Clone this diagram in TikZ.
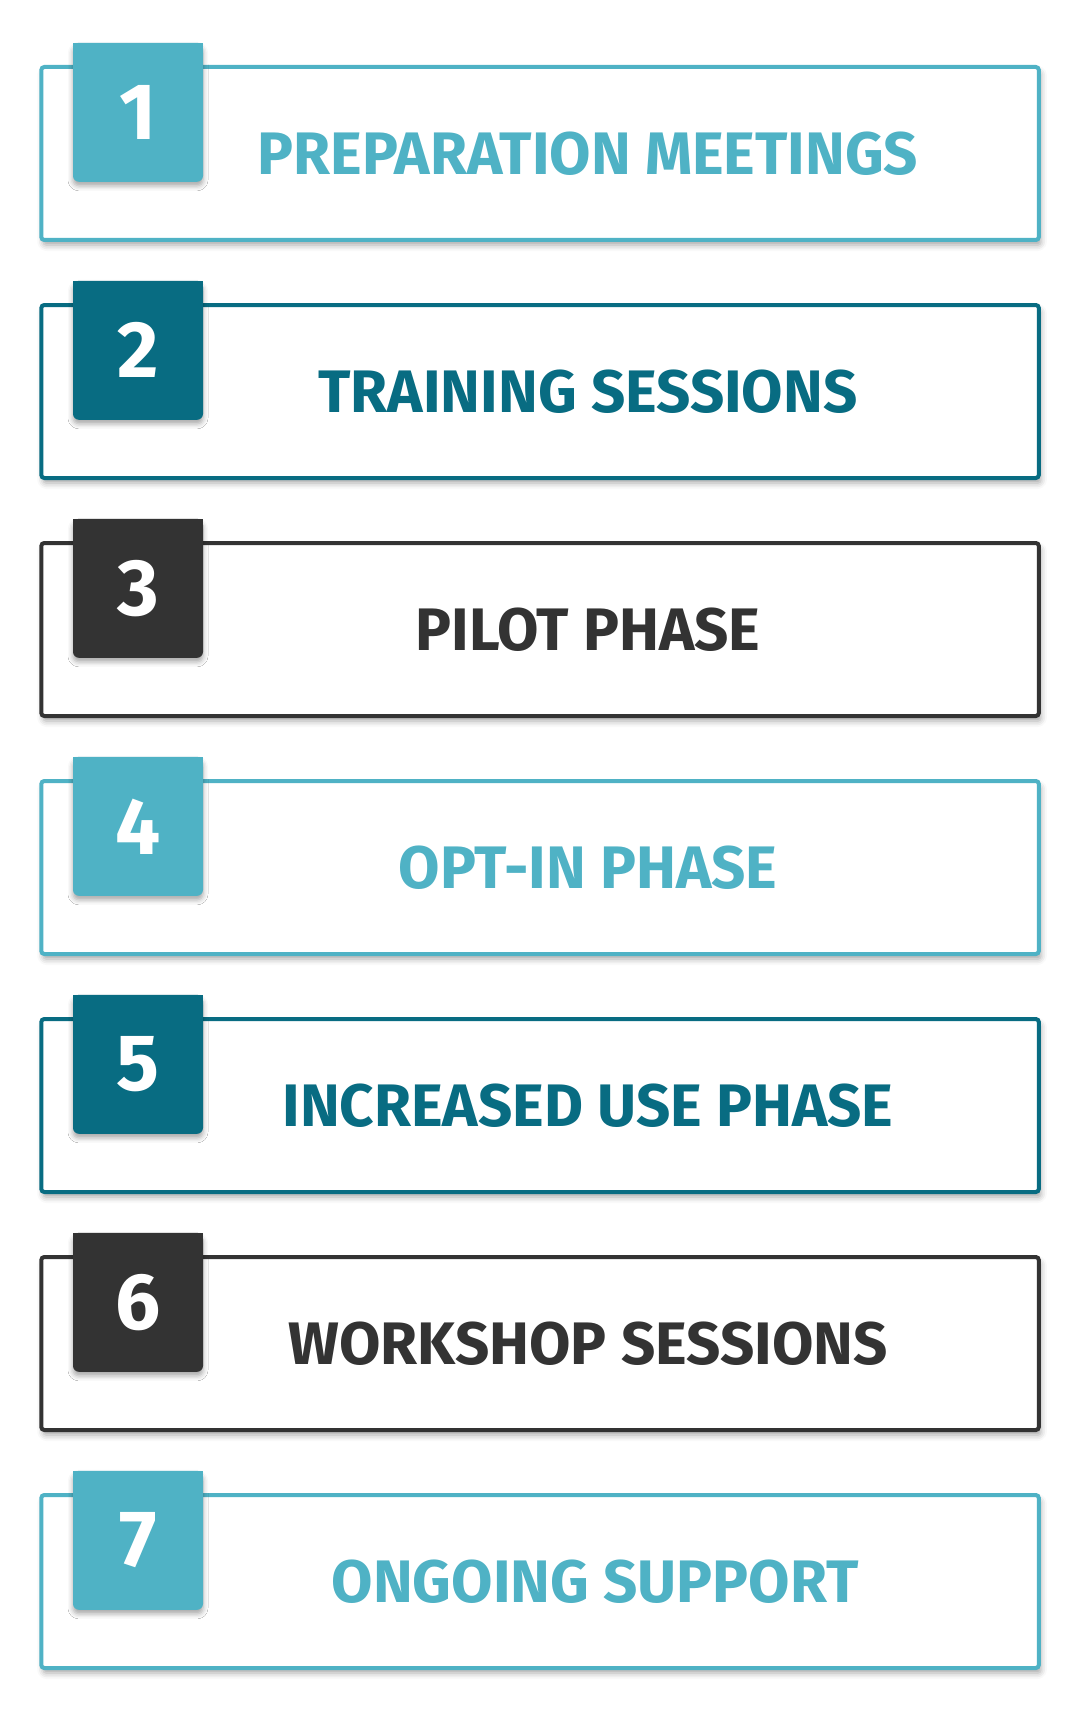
\documentclass[tikz,border=0pt]{standalone}
\usepackage{fontspec}
\setmainfont{Fira Sans}
\newfontfamily\labelfont{Fira Sans Bold}
\newfontfamily\numfont{Fira Sans Bold}
\usetikzlibrary{shadows.blur}
\definecolor{lteal}{RGB}{79,178,197}
\definecolor{dteal}{RGB}{8,108,130}
\definecolor{dgray}{RGB}{51,51,51}
\tikzset{
  stepframe/.style={draw=#1, line width=4pt, fill=white, rounded corners=3pt,
    minimum width=997.5pt, minimum height=173pt, anchor=north west, inner sep=0pt, outer sep=0pt,
    blur shadow={shadow xshift=2pt, shadow yshift=-5pt, shadow blur radius=6pt, shadow opacity=35}},
  badgebox/.style={fill=#1, rounded corners=6pt, minimum width=130pt, minimum height=139pt,
    inner sep=0pt, outer sep=0pt, anchor=center,
    blur shadow={shadow xshift=0pt, shadow yshift=-4pt, shadow blur radius=5pt, shadow opacity=35}},
  numtext/.style={text=white, font=\numfont\fontsize{80}{80}\selectfont, inner sep=0pt},
  steplabel/.style={text=#1, font=\labelfont\fontsize{60}{60}\selectfont, inner sep=0pt}
}
\begin{document}
\begin{tikzpicture}[x=1pt,y=-1pt]
\useasboundingbox (0,0) rectangle (1080,1736);
\foreach \i/\c/\t/\lx in {1/lteal/PREPARATION MEETINGS/588, 2/dteal/TRAINING SESSIONS/588, 3/dgray/PILOT PHASE/588, 4/lteal/OPT-IN PHASE/588, 5/dteal/INCREASED USE PHASE/588, 6/dgray/WORKSHOP SESSIONS/588, 7/lteal/ONGOING SUPPORT/595}{
  \pgfmathsetmacro{\top}{67+238*(\i-1)}
  \node[stepframe=\c] (box\i) at (41.3,\top) {};
  \node[badgebox=\c] (badge\i) at (138,\top+45.3) {};
  \fill[\c] (badge\i.north west) rectangle (badge\i.east);
  \node[numtext] (num\i) at (badge\i.center) {\i};
  \node[steplabel=\c] (label\i) at (\lx,\top+86.5) {\t};
}
\end{tikzpicture}
\end{document}
